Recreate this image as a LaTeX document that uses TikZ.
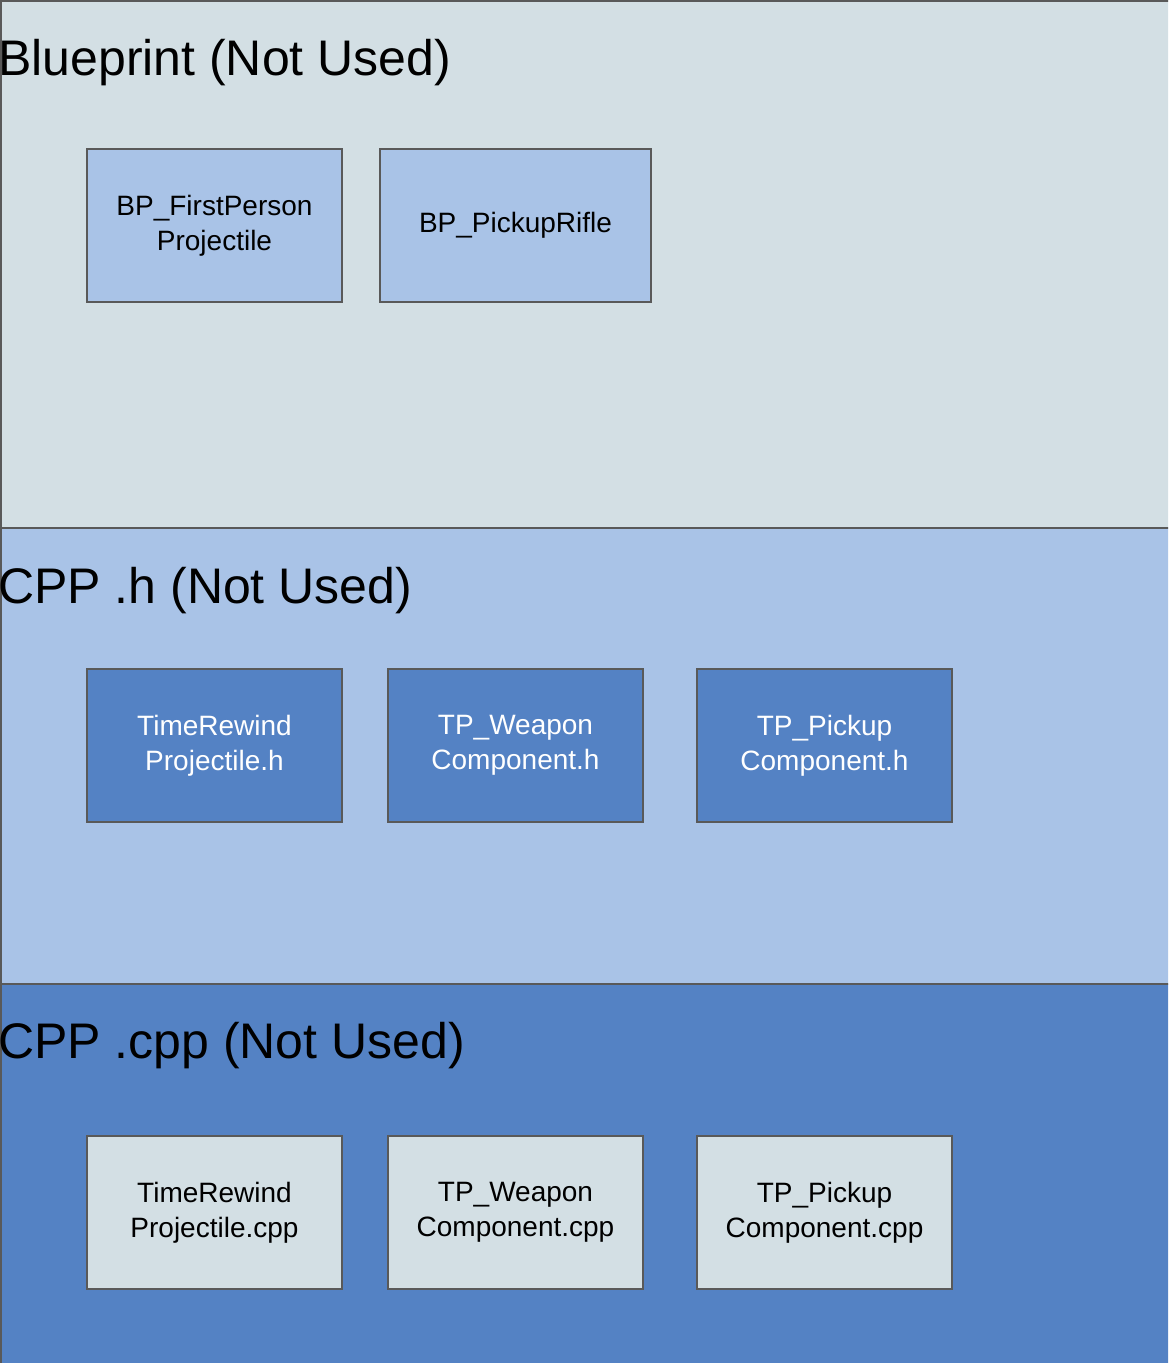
\documentclass[tikz,border=0pt]{standalone}
\usepackage{fontspec}
\setmainfont{Liberation Sans}
\definecolor{laneA}{HTML}{D3DFE4}
\definecolor{laneB}{HTML}{A9C3E7}
\definecolor{laneC}{HTML}{5482C4}
\definecolor{edge}{HTML}{595959}
\tikzset{
  lane/.style={draw=edge, line width=2pt},
  title/.style={anchor=base west, inner sep=0pt, font=\fontsize{50}{58}\selectfont},
  box/.style={draw=edge, line width=2pt, minimum width=255pt, minimum height=153pt,
    anchor=north west, align=center, inner sep=0pt,
    font=\fontsize{28}{35}\selectfont},
}
\begin{document}
\begin{tikzpicture}[x=1pt,y=-1pt]
\useasboundingbox (0,0) rectangle (1168,1363);
\begin{scope}
\clip (0,0) rectangle (1168,1363);
\path[fill=laneA] (0,0) rectangle (1200,528);
\path[fill=laneB] (0,528) rectangle (1200,984);
\path[fill=laneC] (0,984) rectangle (1200,1400);
\draw[lane] (0,1) -- (1200,1);
\draw[lane] (0,528) -- (1200,528);
\draw[lane] (0,984) -- (1200,984);
\draw[lane] (1,0) -- (1,1400);
\end{scope}
\node[title] (t1) at (-2,75) {Blueprint (Not Used)};
\node[title] (t2) at (-2,603) {CPP .h (Not Used)};
\node[title] (t3) at (-2,1058) {CPP .cpp (Not Used)};
% row 1
\node[box, fill=laneB] (bp1) at (86,148) {BP\_FirstPerson\\Projectile};
\node[box, fill=laneB, minimum width=271pt] (bp2) at (379,148) {BP\_PickupRifle};
% row 2
\node[box, fill=laneC, text=white] (h1) at (86,668) {TimeRewind\\Projectile.h};
\node[box, fill=laneC, text=white] (h2) at (387,668) {TP\_Weapon\\Component.h};
\node[box, fill=laneC, text=white] (h3) at (696,668) {TP\_Pickup\\Component.h};
% row 3
\node[box, fill=laneA] (c1) at (86,1135) {TimeRewind\\Projectile.cpp};
\node[box, fill=laneA] (c2) at (387,1135) {TP\_Weapon\\Component.cpp};
\node[box, fill=laneA] (c3) at (696,1135) {TP\_Pickup\\Component.cpp};
\end{tikzpicture}
\end{document}
